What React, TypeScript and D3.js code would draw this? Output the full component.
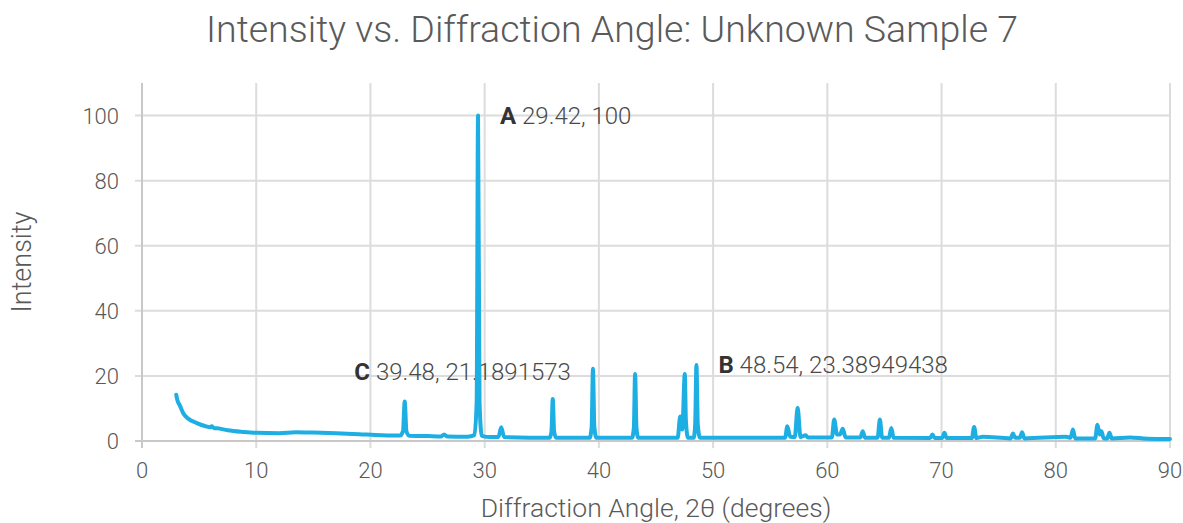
import React, { useEffect } from "react";
import * as d3 from "d3";

// diffraction pattern (2θ in degrees, relative intensity)
const angles = [
  3.0, 3.1, 3.3, 3.6, 4.0, 4.8, 5.5, 6.0, 6.1, 6.3, 6.6, 7.5, 8.8, 10, 12, 13.5, 15, 17, 19, 21, 22.6,
  22.85, 23.0, 23.15, 23.4, 25, 26.2, 26.45, 26.7, 28.5, 29.1, 29.3, 29.42, 29.55, 29.75, 30.5,
  31.2, 31.45, 31.7, 35.7, 35.85, 35.96, 36.08, 36.25, 39.2, 39.37, 39.48, 39.6, 39.78,
  42.9, 43.06, 43.17, 43.29, 43.45, 46.9, 47.12, 47.3, 47.52, 47.62, 47.8, 48.3, 48.43, 48.54, 48.66, 48.85,
  56.3, 56.5, 56.75, 57.15, 57.4, 57.65, 58.1, 58.3, 60.4, 60.6, 60.85, 61.1, 61.35, 61.6,
  62.9, 63.1, 63.3, 64.4, 64.6, 64.8, 65.4, 65.6, 65.8, 69.0, 69.2, 69.4, 70.05, 70.25, 70.45,
  72.65, 72.85, 73.05, 73.6, 76.05, 76.25, 76.45, 76.85, 77.05, 77.25, 80.9, 81.3, 81.5, 81.7,
  83.45, 83.65, 83.85, 84.0, 84.2, 84.5, 84.7, 84.9, 86.5, 88, 90,
];
const intensities = [
  14.2, 12.5, 11, 8.6, 7, 5.5, 4.6, 4.2, 4.5, 4.0, 3.9, 3.3, 2.8, 2.5, 2.4, 2.7, 2.6, 2.4, 2.1, 1.8, 1.7,
  3.0, 12.1, 3.0, 1.6, 1.5, 1.4, 2.0, 1.4, 1.3, 1.8, 12, 100, 12, 1.6, 1.2,
  1.2, 4.2, 1.2, 1.0, 3.0, 12.9, 3.0, 1.0, 1.0, 4.5, 22.2, 4.5, 1.0,
  1.0, 4.0, 20.6, 4.0, 1.0, 1.0, 7.5, 3.5, 20.6, 6.0, 1.0, 1.0, 5.0, 23.39, 5.0, 1.0,
  1.0, 4.5, 1.3, 1.2, 10.2, 1.2, 1.8, 1.1, 1.1, 6.6, 2.0, 2.0, 3.8, 1.1,
  1.1, 3.0, 1.0, 1.0, 6.6, 1.0, 1.0, 4.0, 1.0, 0.9, 2.0, 0.9, 0.9, 2.5, 0.9,
  0.9, 4.3, 0.9, 1.3, 0.8, 2.3, 1.0, 1.0, 2.7, 0.8, 1.3, 1.0, 3.5, 0.8,
  0.8, 5.0, 2.0, 3.0, 0.8, 0.8, 2.5, 0.8, 1.1, 0.7, 0.6,
];

const xTicks = [0, 10, 20, 30, 40, 50, 60, 70, 80, 90];
const yTicks = [0, 20, 40, 60, 80, 100];

// labelled peaks
const labelNames = ["A", "B", "C"];
const labelAngles = [29.42, 48.54, 39.48];
const labelValues = ["100", "23.38949438", "21.1891573"];
const labelY = [100, 23.38949438, 21.1891573];
const labelSide = ["right", "right", "left"];

const W = 1183;
const H = 523;
const margin = { top: 83, right: 13, bottom: 82, left: 142 };
const font = "Roboto, 'Noto Sans', sans-serif";

export default function App() {
  useEffect(() => {
    document.body.style.margin = "0";
  }, []);

  const x = d3.scaleLinear().domain([0, 90]).range([margin.left, W - margin.right]);
  const y = d3.scaleLinear().domain([0, 110]).range([H - margin.bottom, margin.top]);

  const pts: [number, number][] = angles.map((a, i) => [a, intensities[i]]);
  const line = d3
    .line<[number, number]>()
    .x((d) => x(d[0]))
    .y((d) => y(d[1]))
    .curve(d3.curveMonotoneX);

  const bottom = y(0);

  return (
    <svg width={W} height={H} style={{ display: "block" }} fontFamily={font}>
      <text x={612} y={42} textAnchor="middle" fontSize={37.5} fontWeight={300} fill="#5a5a5a">
        Intensity vs. Diffraction Angle: Unknown Sample 7
      </text>

      {/* grid */}
      {xTicks.map((t) => (
        <line key={"gx" + t} x1={x(t)} x2={x(t)} y1={margin.top} y2={bottom + 7} stroke="#dcdcdc" strokeWidth={2} />
      ))}
      {yTicks.map((t) => (
        <line key={"gy" + t} x1={margin.left - 7} x2={W - margin.right} y1={y(t)} y2={y(t)} stroke="#dcdcdc" strokeWidth={2} />
      ))}
      <line x1={margin.left} x2={margin.left} y1={margin.top} y2={bottom + 7} stroke="#c8c8c8" strokeWidth={2} />
      <line x1={margin.left - 7} x2={W - margin.right} y1={bottom} y2={bottom} stroke="#c8c8c8" strokeWidth={2} />

      {/* tick labels */}
      {yTicks.map((t) => (
        <text key={"ly" + t} x={119} y={y(t) + 8} textAnchor="end" fontSize={22} fontWeight={300} fill="#595959">
          {t}
        </text>
      ))}
      {xTicks.map((t) => (
        <text key={"lx" + t} x={x(t)} y={478} textAnchor="middle" fontSize={22} fontWeight={300} fill="#595959">
          {t}
        </text>
      ))}

      <text x={(margin.left + W - margin.right) / 2} y={517} textAnchor="middle" fontSize={26.5} fontWeight={300} fill="#595959">
        Diffraction Angle, 2θ (degrees)
      </text>
      <text
        transform={`translate(31, ${(margin.top + bottom) / 2}) rotate(-90)`}
        textAnchor="middle"
        fontSize={27}
        fontWeight={300}
        fill="#595959"
      >
        Intensity
      </text>

      {/* annotations */}
      {labelNames.map((n, i) => {
        const right = labelSide[i] === "right";
        return (
          <text
            key={n}
            x={x(labelAngles[i]) + (right ? 22 : -22)}
            y={y(labelY[i]) + 8}
            textAnchor={right ? "start" : "end"}
            fontSize={24}
            fontWeight={300}
            fill="#4a4a4a"
          >
            <tspan fontWeight={700} fill="#333">{n}</tspan> {labelAngles[i]}, {labelValues[i]}
          </text>
        );
      })}

      <path d={line(pts) ?? ""} fill="none" stroke="#1daee3" strokeWidth={4} strokeLinejoin="round" strokeLinecap="round" />
    </svg>
  );
}
